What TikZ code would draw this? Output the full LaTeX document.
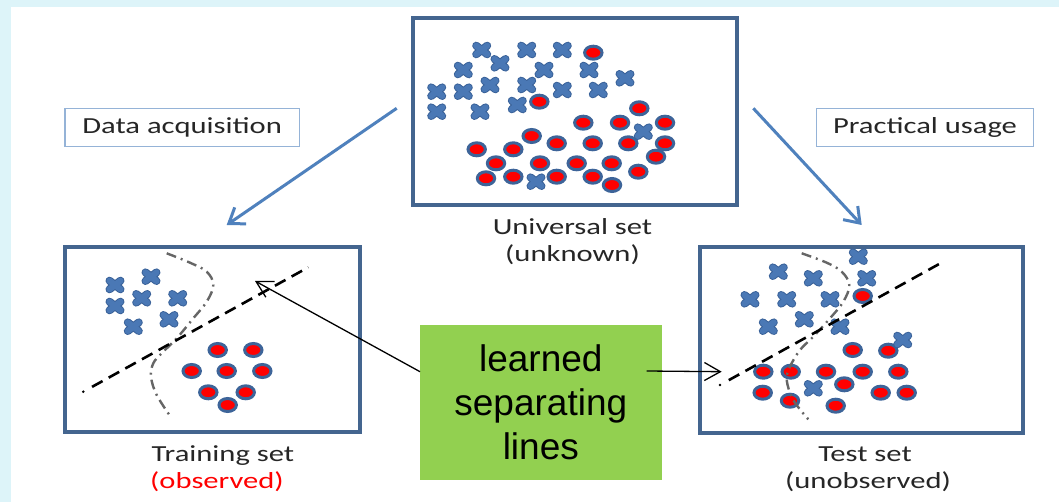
\documentclass[tikz,border=0pt]{standalone}
\usepackage{fontspec}
\setmainfont{Liberation Sans}
\newfontfamily\labfont[FakeStretch=1.33]{Carlito}
\newfontfamily\greenfont{Liberation Sans}
\usetikzlibrary{arrows.meta,calc}
\definecolor{bgcyan}{HTML}{DDF4F9}
\definecolor{framecol}{HTML}{44658F}
\definecolor{crossin}{HTML}{4A78B5}
\definecolor{crossout}{HTML}{3A6299}
\definecolor{circbord}{HTML}{3D6499}
\definecolor{arrowblue}{HTML}{4F81BD}
\definecolor{labbord}{HTML}{95B3D7}
\definecolor{greenfill}{HTML}{92D050}
\definecolor{curvegray}{HTML}{666666}
\definecolor{textgray}{HTML}{262626}
\tikzset{
  frame/.style={draw=framecol, line width=3.2pt, fill=white, inner sep=0pt},
  labbox/.style={draw=labbord, line width=1.3pt, fill=white, inner sep=0pt, text=textgray,
    font=\labfont\fontsize{23}{27}\selectfont, text height=15pt, text depth=2pt},
  labtext/.style={text=textgray, inner sep=0pt, font=\labfont\fontsize{23}{27}\selectfont},
  bluearrow/.style={draw=arrowblue, line width=3pt, -{Straight Barb[length=14pt,width=20pt,line width=3pt]}},
  blackarrow/.style={draw=black, line width=1.3pt, -{Straight Barb[length=16pt,width=18pt,line width=1.3pt]}},
  sepline/.style={draw=black, line width=2.6pt, dash pattern=on 12pt off 7pt},
  curveline/.style={draw=curvegray, line width=2.4pt, dash pattern=on 10pt off 5pt on 2pt off 5pt},
  xmark/.pic={
    \draw[crossout, line width=8pt, line cap=round] (-5.5pt,-4.3pt) -- (5.5pt,4.3pt) (-5.5pt,4.3pt) -- (5.5pt,-4.3pt);
    \draw[crossin, line width=6pt, line cap=round] (-5.5pt,-4.3pt) -- (5.5pt,4.3pt) (-5.5pt,4.3pt) -- (5.5pt,-4.3pt);
  },
  omark/.pic={
    \draw[circbord, line width=3pt, fill=red] (0,0) ellipse [x radius=8.7pt, y radius=6.5pt];
  }
}
\begin{document}
\begin{tikzpicture}[x=1pt, y=-1pt]
\useasboundingbox (0,0) rectangle (1059,502);
\fill[bgcyan] (0,0) rectangle (1059,502);
\fill[white] (11,7.5) rectangle (1059,502);

% frames
\node[frame, minimum width=324pt, minimum height=187pt] (univ) at (575,111.5) {};
\node[frame, minimum width=295pt, minimum height=185pt] (train) at (212.5,339.5) {};
\node[frame, minimum width=323pt, minimum height=186pt] (test) at (861.5,340) {};

% top marks
\foreach \p in {(593.3,52.7),(583.3,122.7),(620,122.7),(665,122.7),(531.7,136),(476.7,149.3),(513.3,149.3),(556.7,143.3),(592.7,143.3),(628.3,143.3),(665,143.3),(656,156.7),(496,163.3),(540,163.3),(576.7,163.3),(611.7,163.3),(638.3,171.7),(486,178.3),(513.3,176.7),(556.7,176.7),(592.7,176.7),(612,185)}
  \pic at \p {omark};
\foreach \p in {(481.7,50),(526.7,50),(562.3,50),(500,63.3),(463.3,70),(544,70),(589,70),(625,78.3),(490,85),(526.7,85),(436.7,91.7),(463.3,91.7),(562.3,90),(598.3,90),(517.3,105),(436.7,111.7),(480,111.7),(643.3,131.7),(536,181.7)}
  \pic at \p {xmark};
\pic at (539.3,101.7) {omark};
\pic at (639.3,108.3) {omark};

% left marks
\foreach \p in {(217.7,350),(253.3,350),(191.7,371),(226.7,371),(262.3,371),(208.3,392.3),(245.7,392.3),(227.7,405)}
  \pic at \p {omark};
\foreach \p in {(115,285),(151,276.7),(115,306),(141.7,298.3),(177.7,298.3),(133.3,326.7),(169,319.3)}
  \pic at \p {xmark};

% right marks
\foreach \p in {(852.7,350),(888.3,350.7),(763.3,371.7),(790.7,371.7),(826,371.7),(862.7,371.7),(898.3,371.7),(844.3,384.3),(762.7,392.7),(880.7,392.7),(906.7,392.7),(790,400.7),(835.7,405.7)}
  \pic at \p {omark};
\foreach \p in {(858.3,256.7),(778.3,271.7),(813.3,278.3),(866.7,278.3),(750,299.3),(786.7,299.3),(830,299.3),(804.3,319.3),(768.3,326.7),(840,326.7),(902.7,340),(813.3,388.3)}
  \pic at \p {xmark};
\pic at (862.7,296) {omark};

% separating curves
\draw[curveline] plot[smooth, tension=0.6] coordinates {(166.7,253.3) (190,262.7) (206.7,271.7) (213.3,285) (206.7,301.7) (193.3,318.3) (176.7,338.3) (161.7,353.3) (153.3,363.3) (151,376.7) (156.7,395) (171.7,418.3)};
\draw[curveline] plot[smooth, tension=0.6] coordinates {(801.7,253.3) (826.7,262.7) (841.7,271.7) (849.3,285) (843.3,301.7) (830,318.3) (813.3,336.7) (800,350) (790,366.7) (786.7,380) (793.3,400) (808.3,419.3)};

% separating lines
\coordinate (ls) at (83.3,391.7);
\coordinate (le) at (308.3,267.3);
\coordinate (rs) at (720,385);
\coordinate (re) at (943.3,261.7);
\fill (ls) circle (1.4pt);
\draw[sepline] ($(ls)!10pt!(le)$) -- (le);
\fill (rs) circle (1.4pt);
\draw[sepline] ($(rs)!10pt!(re)$) -- (re);

% labels
\node[labbox, minimum width=234.3pt, minimum height=38.4pt] (acq) at (182.2,127.5) {Data acquisition};
\node[labbox, minimum width=216.6pt, minimum height=38.4pt] (use) at (925,127.5) {Practical usage};

\node[labtext, anchor=base] (uni1) at (572.5,235) {Universal set};
\node[labtext, anchor=base] (uni2) at (572.5,261.7) {(unknown)};
\node[labtext, anchor=base west] (tr1) at (151.5,461.7) {Training set};
\node[labtext, anchor=base west, text=red] (tr2) at (150,488) {(observed)};
\node[labtext, anchor=base] (te1) at (865,461.7) {Test set};
\node[labtext, anchor=base] (te2) at (868,488) {(unobserved)};

% blue arrows
\coordinate (b1s) at (396.7,108.3);
\coordinate (b1e) at (226.7,225);
\coordinate (b2s) at (753.3,108.3);
\coordinate (b2e) at (861.7,225);
\draw[bluearrow] (b1s) -- (b1e);
\draw[bluearrow] (b2s) -- (b2e);

% green box
\node[fill=greenfill, minimum width=241.7pt, minimum height=155pt, inner sep=0pt, align=center,
  font=\greenfont\fontsize{37}{44}\selectfont] (green) at (540.8,402.5) {learned\\separating\\lines};

% black arrows
\coordinate (k1s) at (420,371.7);
\coordinate (k1e) at (255,281);
\coordinate (k2s) at (646.7,371);
\coordinate (k2e) at (721.7,371.7);
\draw[blackarrow] (k1s) -- (k1e);
\draw[blackarrow] (k2s) -- (k2e);
\end{tikzpicture}
\end{document}
